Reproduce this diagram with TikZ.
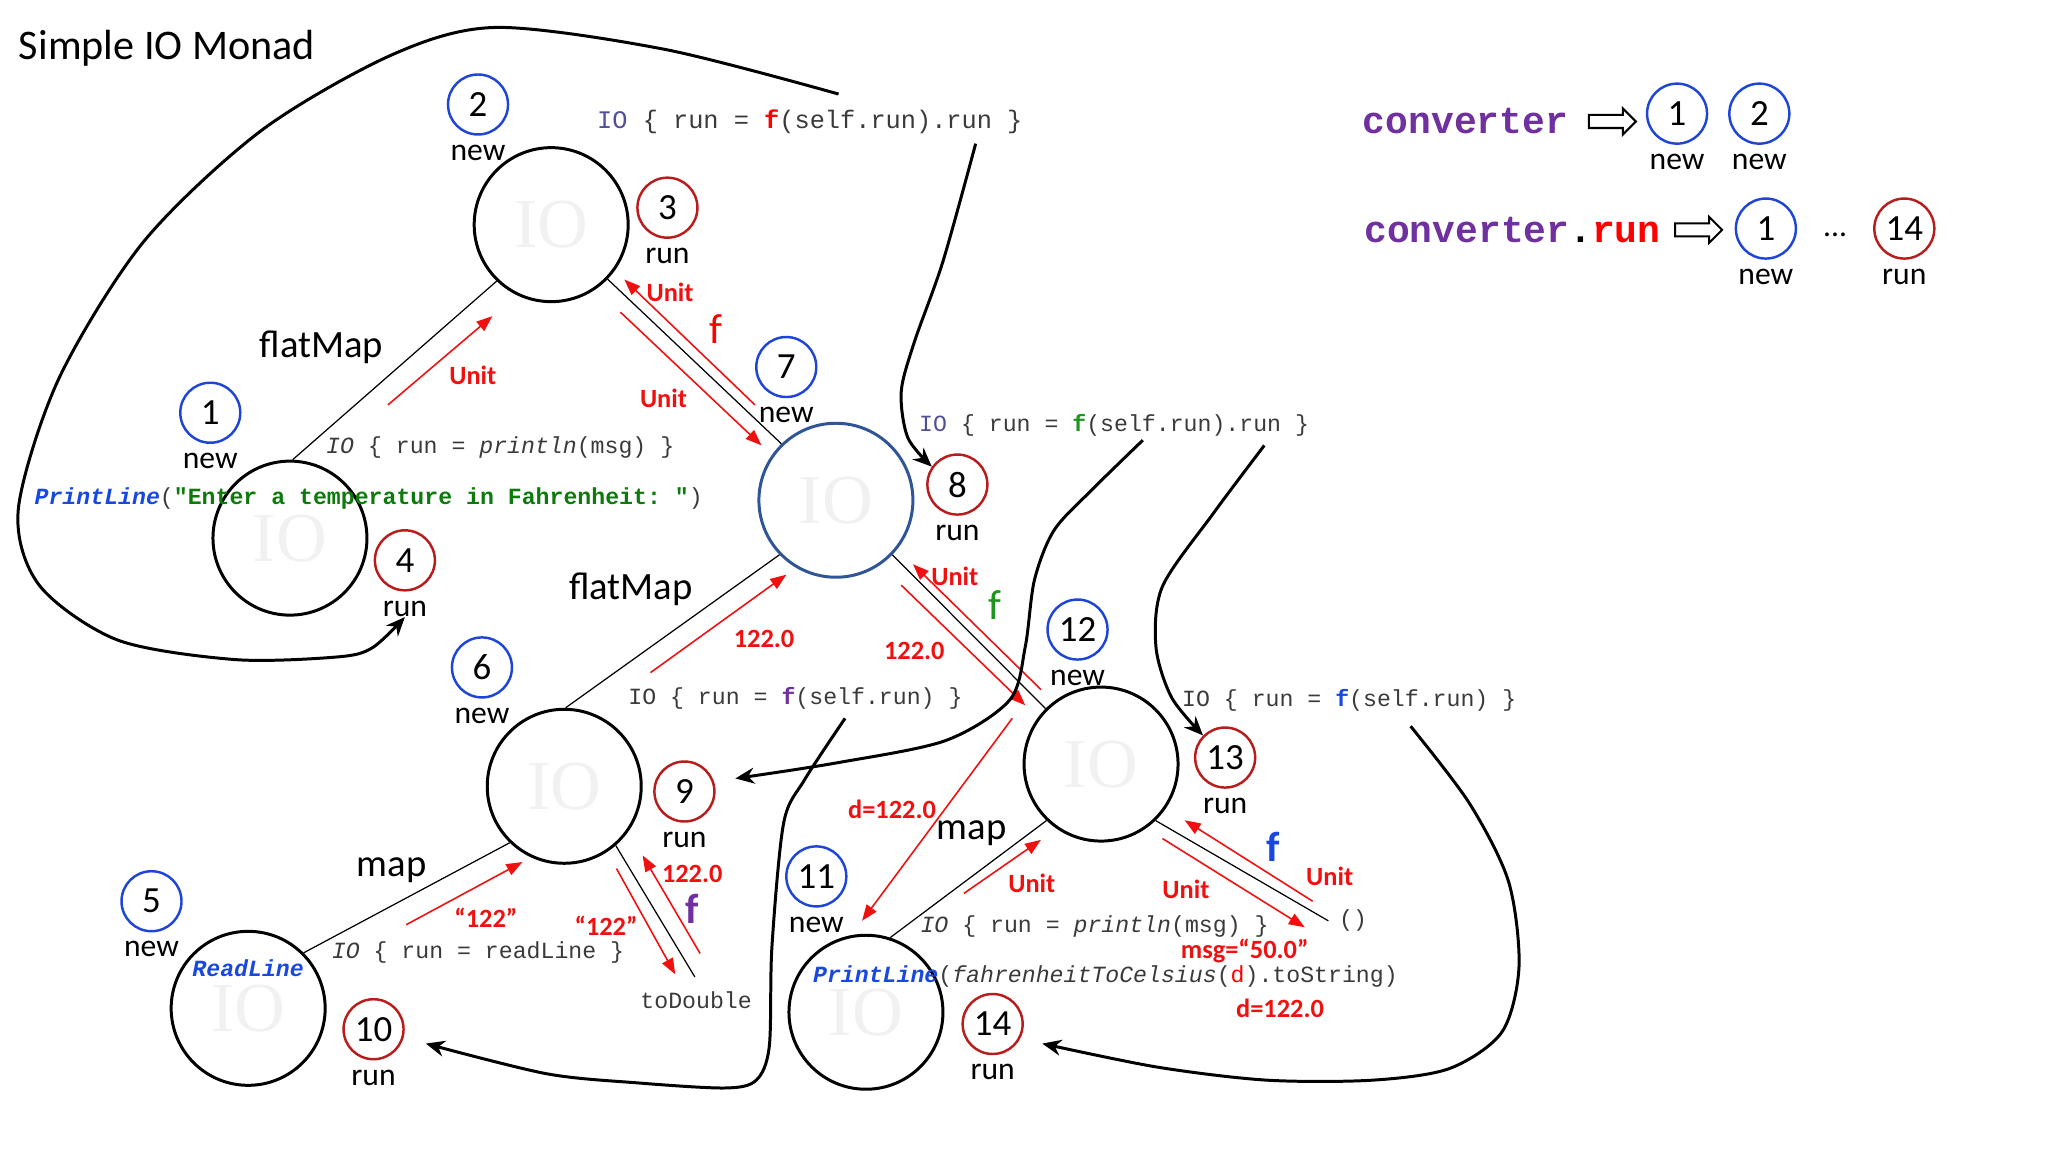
\documentclass[tikz,border=0pt]{standalone}
\usepackage{fontspec}
\setmainfont{Carlito}
\setmonofont{Liberation Mono}
\newfontfamily\iofont{Liberation Serif}
\usetikzlibrary{positioning,arrows.meta,shapes.arrows}

\definecolor{newblue}{HTML}{1F45D6}
\definecolor{runred}{HTML}{B81C1C}
\definecolor{ioblue}{HTML}{2F5597}
\definecolor{lblred}{HTML}{F01010}
\definecolor{fgreen}{HTML}{1E961E}
\definecolor{strgreen}{HTML}{0E7A0E}
\definecolor{fpurple}{HTML}{7030A0}
\definecolor{fblue}{HTML}{1848E0}
\definecolor{codegray}{HTML}{3A3A3A}
\definecolor{ioslate}{HTML}{50509A}
\definecolor{wmgray}{HTML}{F1F1F1}

\newcommand{\fcall}[1]{\textcolor{#1}{\textbf{f}}}
\newcommand{\pline}{\textcolor{fblue}{\textbf{\textit{PrintLine}}}}

\tikzset{
  iobig/.style={circle, draw, line width=0.85pt, minimum size=1.54cm, inner sep=0pt,
    text=wmgray, font=\iofont\fontsize{20}{20}\selectfont},
  newnum/.style={circle, draw=newblue, line width=0.7pt, minimum size=0.6cm, inner sep=0pt,
    font=\fontsize{10.5}{10.5}\selectfont},
  runnum/.style={newnum, draw=runred},
  tag/.style={inner sep=0pt, font=\fontsize{9}{9}\selectfont},
  opname/.style={inner sep=0pt, font=\fontsize{11}{11}\selectfont},
  redlbl/.style={inner sep=0pt, text=lblred, font=\bfseries\fontsize{7.5}{7.5}\selectfont},
  flbl/.style={inner sep=0pt, font=\fontsize{12}{12}\selectfont},
  redarr/.style={lblred, line width=0.45pt, -{Triangle[length=1.6mm,width=1.2mm]}},
  edge/.style={line width=0.35pt},
  callarr/.style={line width=0.85pt, -{Stealth[length=1.9mm,width=1.6mm]}},
  code/.style={inner sep=0pt, text=codegray, font=\ttfamily\fontsize{6.6}{6.6}\selectfont},
  conv/.style={inner sep=0pt, text=fpurple, font=\ttfamily\bfseries\fontsize{10.8}{10.8}\selectfont},
  blockarr/.style={single arrow, draw, fill=white, line width=0.6pt, minimum height=0.47cm,
    inner xsep=0pt, inner ysep=0.055cm, single arrow head extend=0.065cm}
}

\begin{document}
\begin{tikzpicture}[x=0.01306cm, y=-0.01306cm]
\useasboundingbox (0,0) rectangle (1568,882);

% Title
\node[anchor=west, inner sep=0pt, font=\fontsize{12}{12}\selectfont] (title) at (14,37) {Simple IO Monad};

% IO values
\node[iobig] (A) at (222,412) {IO};
\node[iobig] (B) at (422,172) {IO};
\node[iobig, draw=ioblue] (C) at (640,383) {IO};
\node[iobig] (D) at (432,602) {IO};
\node[iobig] (E) at (190,772) {IO};
\node[iobig] (F) at (843,585) {IO};
\node[iobig] (G) at (663,775) {IO};

% steps
\node[newnum] (n1) at (161,316) {1};
\node[tag, below=0.085cm of n1] (s1) {new};
\node[newnum] (n2) at (366,80) {2};
\node[tag, below=0.085cm of n2] (s2) {new};
\node[runnum] (n3) at (511,159) {3};
\node[tag, below=0.085cm of n3] (s3) {run};
\node[runnum] (n4) at (310,429) {4};
\node[tag, below=0.085cm of n4] (s4) {run};
\node[newnum] (n5) at (116,690) {5};
\node[tag, below=0.085cm of n5] (s5) {new};
\node[newnum] (n6) at (369,511) {6};
\node[tag, below=0.085cm of n6] (s6) {new};
\node[newnum] (n7) at (602,281) {7};
\node[tag, below=0.085cm of n7] (s7) {new};
\node[runnum] (n8) at (733,371) {8};
\node[tag, below=0.085cm of n8] (s8) {run};
\node[runnum] (n9) at (524,606) {9};
\node[tag, below=0.085cm of n9] (s9) {run};
\node[runnum] (n10) at (286,788) {10};
\node[tag, below=0.085cm of n10] (s10) {run};
\node[newnum] (n11) at (625,671) {11};
\node[tag, below=0.085cm of n11] (s11) {new};
\node[newnum] (n12) at (825,482) {12};
\node[tag, below=0.085cm of n12] (s12) {new};
\node[runnum] (n13) at (938,580) {13};
\node[tag, below=0.085cm of n13] (s13) {run};
\node[runnum] (n14) at (760,784) {14};
\node[tag, below=0.085cm of n14] (s14) {run};

% legend
\node[conv] (cv) at (1122,93) {converter};
\node[blockarr] (cvarr) at (1232,93) {};
\node[newnum] (l1) at (1284,87) {1};
\node[tag, below=0.085cm of l1] (ls1) {new};
\node[newnum] (l2) at (1347,87) {2};
\node[tag, below=0.085cm of l2] (ls2) {new};
\node[conv] (cvrun) at (1158,176) {converter\textcolor{black}{.}\textcolor{red}{run}};
\node[blockarr] (runarr) at (1298,176) {};
\node[newnum] (r1) at (1352,175) {1};
\node[tag, below=0.085cm of r1] (rs1) {new};
\node[tag] (dots) at (1405,180) {...};
\node[runnum] (r14) at (1458,175) {14};
\node[tag, below=0.085cm of r14] (rs14) {run};

% combinators
\node[opname] (fm1) at (246,266) {flatMap};
\node[opname] (fm2) at (483,451) {flatMap};
\node[opname] (mp1) at (300,666) {map};
\node[opname] (mp2) at (744,638) {map};

% code
\node[code, font=\ttfamily\fontsize{7.2}{7.2}\selectfont] (c1) at (620,93)
  {\textcolor{ioslate}{IO} \{ run = \fcall{red}(self.run).run \}};
\node[code] (c2) at (853,326) {\textcolor{ioslate}{IO} \{ run = \fcall{fgreen}(self.run).run \}};
\node[code] (c3) at (609,535) {IO \{ run = \fcall{fpurple}(self.run) \}};
\node[code] (c4) at (1033,536) {IO \{ run = \fcall{fblue}(self.run) \}};
\node[code] (c5) at (383,343) {\textit{IO} \{ run = \textit{println}(msg) \}};
\node[code, anchor=west] (c6) at (26,382)
  {\pline(\textcolor{strgreen}{\textbf{"Enter a temperature in Fahrenheit: "}})};
\node[code] (c7) at (366,729) {\textit{IO} \{ run = readLine \}};
\node[code, text=fblue] (c8) at (190,741) {\textbf{\textit{ReadLine}}};
\node[code] (c9) at (838,709) {\textit{IO} \{ run = \textit{println}(msg) \}};
\node[code, anchor=west] (c10) at (622,748)
  {\pline(\textit{fahrenheitToCelsius}(\textcolor{red}{d}).toString)};
\node[code] (todbl) at (533,766) {toDouble};
\node[code] (unitv) at (1036,705) {()};

% tree edges
\coordinate (tdEnd) at (532,748);
\coordinate (uEnd) at (1017,705);
\draw[edge] (A.88) -- (B.226);
\draw[edge] (B.316) -- (C.134);
\draw[edge] (C.224) -- (D.89);
\draw[edge] (C.316) -- (F.135);
\draw[edge] (E.45) -- (D.226);
\draw[edge] (D.311) -- (tdEnd);
\draw[edge] (G.72) -- (F.226);
\draw[edge] (F.314) -- (uEnd);

% values passed around
\draw[redarr] (297,310) -- (377,242);
\node[redlbl] (v1) at (362,287) {Unit};
\draw[redarr] (578,310) -- (478,214);
\node[redlbl] (v2) at (513,224) {Unit};
\draw[redarr] (475,239) -- (583,341);
\node[redlbl] (v3) at (508,305) {Unit};
\node[flbl, text=red] (f1) at (548,252) {f};
\draw[redarr] (498,515) -- (602,440);
\node[redlbl] (v4) at (585,489) {122.0};
\draw[redarr] (797,528) -- (699,432);
\node[redlbl] (v5) at (731,441) {Unit};
\draw[redarr] (690,448) -- (785,540);
\node[redlbl] (v6) at (700,498) {122.0};
\node[flbl, text=fgreen] (f2) at (762,463) {f};
\draw[redarr] (311,708) -- (400,660);
\node[redlbl] (v7) at (372,703) {“122”};
\draw[redarr] (536,730) -- (492,655);
\node[redlbl] (v8) at (530,669) {122.0};
\node[flbl, text=fpurple, font=\bfseries\fontsize{12}{12}\selectfont] (f3) at (530,696) {f};
\draw[redarr] (472,665) -- (517,746);
\node[redlbl] (v9) at (464,709) {“122”};
\draw[redarr] (738,684) -- (797,643);
\node[redlbl] (v10) at (790,676) {Unit};
\draw[redarr] (1005,690) -- (907,628);
\node[redlbl] (v11) at (1018,671) {Unit};
\node[flbl, text=fblue, font=\bfseries\fontsize{12}{12}\selectfont] (f4) at (975,648) {f};
\draw[redarr] (890,642) -- (999,710);
\node[redlbl] (v12) at (908,681) {Unit};
\draw[redarr] (775,550) -- (660,705);
\node[redlbl] (v13) at (683,620) {d=122.0};
\node[redlbl] (v14) at (953,728) {msg=“50.0”};
\node[redlbl] (v15) at (980,772) {d=122.0};

% run calls
\coordinate (k1) at (642,72);
\coordinate (k2) at (747,110);
\coordinate (k3) at (875,337);
\coordinate (k4) at (968,341);
\coordinate (k5) at (647,550);
\coordinate (k6) at (1080,556);
\draw[callarr] plot[smooth] coordinates {(k1) (510,38) (380,21) (300,42) (200,100)
  (110,185) (45,290) (14,390) (30,448) (90,490) (180,505) (258,503) (285,496) (s4.south)};
\draw[callarr] plot[smooth] coordinates {(k2) (722,200) (700,262) (690,300) (695,335) (n8.145)};
\draw[callarr] plot[smooth] coordinates {(k3) (836,375) (807,406) (792,444) (785,495)
  (773,536) (724,567) (641,584) (563,596)};
\draw[callarr] plot[smooth] coordinates {(k4) (929,393) (890,449) (885,495) (897,534) (n13.135)};
\draw[callarr] plot[smooth] coordinates {(k5) (616,597) (600,630) (591,725) (589,801)
  (579,827) (555,833) (487,829) (418,822) (326,799)};
\draw[callarr] plot[smooth] coordinates {(k6) (1125,615) (1155,675) (1163,740)
  (1150,790) (1110,818) (1051,827) (970,827) (886,817) (798,799)};
\end{tikzpicture}
\end{document}
